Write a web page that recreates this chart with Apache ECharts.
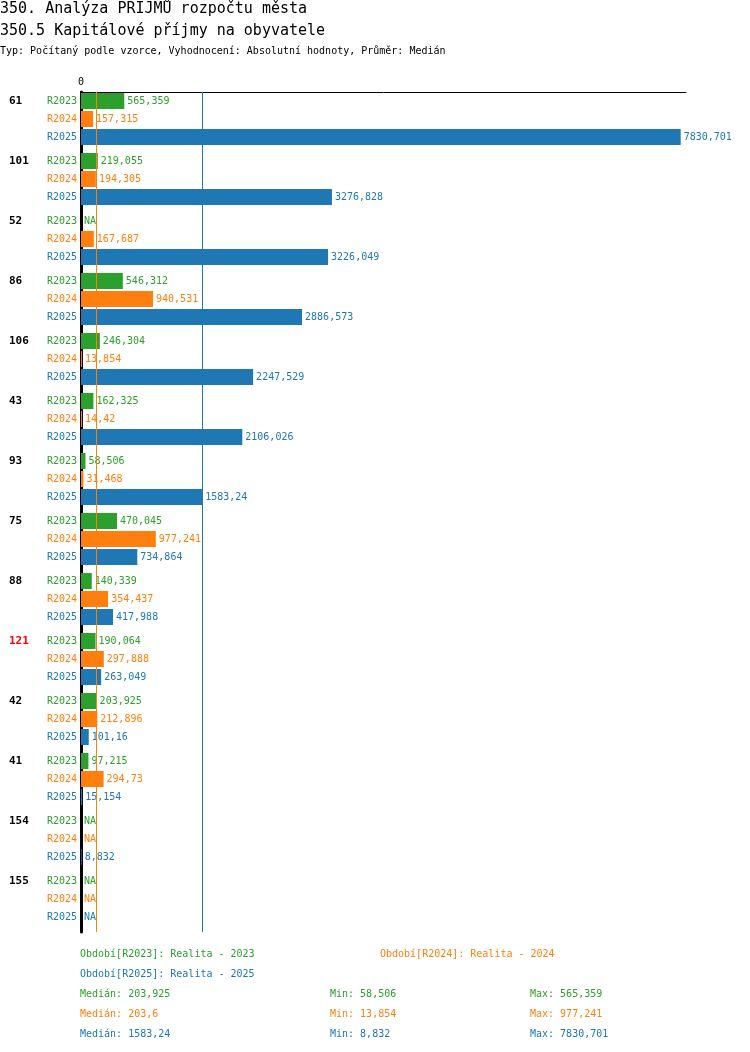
<!DOCTYPE html>
<html>
<head>
<meta charset="utf-8">
<script src="https://cdn.jsdelivr.net/npm/echarts@6/dist/echarts.min.js"></script>
<style>
    html, body { margin: 0; padding: 0; background: #fff; }
    #chart { width: 750px; height: 1052px; }
</style>
</head>
<body>
<div id="chart"></div>
<script>
// data
var groups = ['61', '101', '52', '86', '106', '43', '93', '75', '88', '121', '42', '41', '154', '155'];
var redGroup = '121';
var periods = ['R2023', 'R2024', 'R2025'];
var colors = ['#2ca02c', '#ff7f0e', '#1f77b4'];

// null = NA
var r2023 = [565.359, 219.055, null, 546.312, 246.304, 162.325, 58.506, 470.045, 140.339, 190.064, 203.925, 97.215, null, null];
var r2024 = [157.315, 194.305, 167.687, 940.531, 13.854, 14.42, 31.468, 977.241, 354.437, 297.888, 212.896, 294.73, null, null];
var r2025 = [7830.701, 3276.828, 3226.049, 2886.573, 2247.529, 2106.026, 1583.24, 734.864, 417.988, 263.049, 101.16, 15.154, 8.832, null];

var medians = [203.925, 203.6, 1583.24];
var legendTexts = ['Období[R2023]: Realita - 2023', 'Období[R2024]: Realita - 2024', 'Období[R2025]: Realita - 2025'];

var titleText = '350. Analýza PŘÍJMŮ rozpočtu města';
var subTitleText = '350.5 Kapitálové příjmy na obyvatele';
var typeText = 'Typ: Počítaný podle vzorce, Vyhodnocení: Absolutní hodnoty, Průměr: Medián';

var axisMax = 7900;


var FONT = 'DejaVu Sans Mono';
var SLOTS = 10; // 6px slots per group, rows sit on slot 1, 4, 7

function fmt(v) {
    return String(v).replace('.', ',');
}

var chart = echarts.init(document.getElementById('chart'));

var seriesData = [r2023, r2024, r2025];
var slotNames = [];
for (var i = 0; i < groups.length * SLOTS; i++) {
    slotNames.push('s' + i);
}

function slotInfo(index) {
    var g = Math.floor(index / SLOTS);
    var k = index % SLOTS;
    if (k % 3 !== 1) return null;
    return {group: g, row: (k - 1) / 3};
}

var series = [];
for (var p = 0; p < periods.length; p++) {
    var arr = [];
    for (var s = 0; s < slotNames.length; s++) {
        var info = slotInfo(s);
        if (info && info.row === p) {
            var v = seriesData[p][info.group];
            arr.push(v === null ? {value: 0, na: true} : {value: v});
        } else {
            arr.push(null);
        }
    }
    series.push({
        name: periods[p],
        type: 'bar',
        data: arr,
        barWidth: 16,
        barGap: '-100%',
        itemStyle: {color: colors[p]},
        animation: false,
        label: {
            show: true,
            position: 'right',
            distance: 3,
            color: colors[p],
            fontFamily: FONT,
            fontSize: 10,
            formatter: function (params) {
                return params.data.na ? 'NA' : fmt(params.data.value);
            }
        },
        markLine: {
            silent: true,
            symbol: 'none',
            animation: false,
            label: {show: false},
            lineStyle: {color: colors[p], type: 'solid', width: 1},
            data: [{xAxis: medians[p]}]
        }
    });
}

// header and bottom texts
var graphics = [
    {type: 'text', x: 0, y: 9, style: {text: titleText, font: '15px ' + FONT, fill: '#000', verticalAlign: 'middle'}},
    {type: 'text', x: 0, y: 31, style: {text: subTitleText, font: '15px ' + FONT, fill: '#000', verticalAlign: 'middle'}},
    {type: 'text', x: 0, y: 51, style: {text: typeText, font: '10px ' + FONT, fill: '#000', verticalAlign: 'middle'}}
];
var legendPos = [[80, 954], [380, 954], [80, 974]];
for (var l = 0; l < legendTexts.length; l++) {
    graphics.push({
        type: 'text', x: legendPos[l][0], y: legendPos[l][1],
        style: {text: legendTexts[l], font: '10px ' + FONT, fill: colors[l], verticalAlign: 'middle'}
    });
}
for (var q = 0; q < periods.length; q++) {
    var vals = seriesData[q].filter(function (v) { return v !== null; });
    var y = 994 + q * 20;
    graphics.push({type: 'text', x: 80, y: y,
        style: {text: 'Medián: ' + fmt(medians[q]), font: '10px ' + FONT, fill: colors[q], verticalAlign: 'middle'}});
    graphics.push({type: 'text', x: 330, y: y,
        style: {text: 'Min: ' + fmt(Math.min.apply(null, vals)), font: '10px ' + FONT, fill: colors[q], verticalAlign: 'middle'}});
    graphics.push({type: 'text', x: 530, y: y,
        style: {text: 'Max: ' + fmt(Math.max.apply(null, vals)), font: '10px ' + FONT, fill: colors[q], verticalAlign: 'middle'}});
}

var rowRich = {};
for (var r = 0; r < periods.length; r++) {
    rowRich['c' + r] = {color: colors[r], fontFamily: FONT, fontSize: 10};
}

chart.setOption({
    backgroundColor: '#fff',
    animation: false,
    grid: {left: 81, top: 92, width: 605, height: 840, containLabel: false},
    xAxis: {
        type: 'value',
        position: 'top',
        min: 0,
        max: axisMax,
        interval: axisMax,
        axisLine: {show: true, lineStyle: {color: '#000', width: 1}},
        axisTick: {show: false},
        splitLine: {show: false},
        axisLabel: {
            margin: 5,
            fontFamily: FONT,
            fontSize: 10,
            color: '#000',
            formatter: function (v) { return v === 0 ? '0' : ''; }
        }
    },
    yAxis: [
        {
            type: 'category',
            data: slotNames,
            inverse: true,
            axisLine: {show: true, lineStyle: {color: '#000', width: 3}},
            axisTick: {show: false},
            splitLine: {show: false},
            axisLabel: {
                interval: 0,
                margin: 4,
                rich: rowRich,
                formatter: function (v, idx) {
                    var info = slotInfo(idx);
                    return info ? '{c' + info.row + '|' + periods[info.row] + '}' : '';
                }
            }
        },
        {
            type: 'category',
            data: slotNames,
            inverse: true,
            position: 'left',
            axisLine: {show: false},
            axisTick: {show: false},
            splitLine: {show: false},
            axisLabel: {
                interval: 0,
                margin: 72,
                align: 'left',
                rich: {
                    b: {color: '#000', fontFamily: FONT, fontSize: 11, fontWeight: 'bold'},
                    red: {color: '#ff0000', fontFamily: FONT, fontSize: 11, fontWeight: 'bold'}
                },
                formatter: function (v, idx) {
                    var info = slotInfo(idx);
                    if (!info || info.row !== 0) return '';
                    var name = groups[info.group];
                    return '{' + (name === redGroup ? 'red' : 'b') + '|' + name + '}';
                }
            }
        }
    ],
    series: series,
    graphic: graphics
});
</script>
</body>
</html>
